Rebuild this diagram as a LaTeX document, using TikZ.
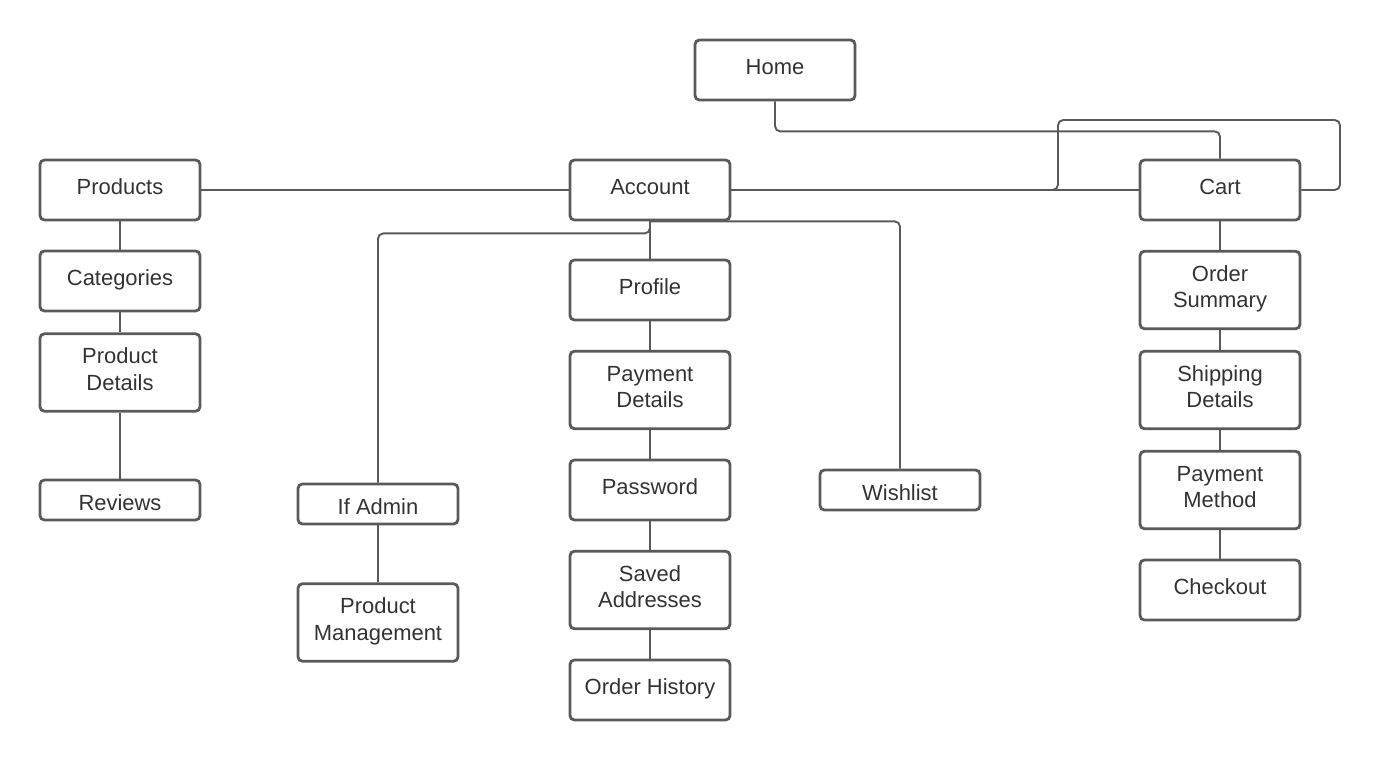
\documentclass[tikz,border=0pt]{standalone}
\usepackage{fontspec}
\setmainfont{Liberation Sans}
\definecolor{boxline}{HTML}{5A5A5A}
\definecolor{boxtext}{HTML}{333333}
\tikzset{
  page/.style={box/.style={draw=boxline, line width=1.6pt, rounded corners=2.5pt, text=boxtext,
    minimum width=3.2cm, minimum height=1.2cm, align=center, inner sep=0pt,
    text height=8.8pt, text depth=3.5pt, font=\fontsize{12.5}{15}\selectfont}},
  tall/.style={minimum height=1.55cm, text height=23.8pt, text depth=3.5pt},
  short/.style={minimum height=0.8cm, text height=11.6pt, text depth=0pt},
  link/.style={draw=boxline, line width=1.1pt, rounded corners=3pt}
}
\begin{document}
\begin{tikzpicture}[x=0.02cm, y=-0.02cm, page]
            \useasboundingbox (0,0) rectangle (1382,760);
            \node[box] (home) at (775,70) {Home};
            % products column
            \node[box] (products) at (120,190) {Products};
            \node[box] (categories) at (120,281) {Categories};
            \node[box, tall] (proddetails) at (120,372.5) {Product\\Details};
            \node[box, short] (reviews) at (120,500) {Reviews};
            % account column
            \node[box] (account) at (650,190) {Account};
            \node[box] (profile) at (650,290) {Profile};
            \node[box, tall] (paydetails) at (650,390) {Payment\\Details};
            \node[box] (password) at (650,490) {Password};
            \node[box, tall] (addresses) at (650,590) {Saved\\Addresses};
            \node[box] (history) at (650,690) {Order History};
            \node[box, short] (ifadmin) at (378,504) {If Admin};
            \node[box, tall] (prodmgmt) at (378,622.5) {Product\\Management};
            \node[box, short] (wishlist) at (900,490) {Wishlist};
            % cart column
            \node[box] (cart) at (1220,190) {Cart};
            \node[box, tall] (summary) at (1220,290) {Order\\Summary};
            \node[box, tall] (shipping) at (1220,390) {Shipping\\Details};
            \node[box, tall] (paymethod) at (1220,490) {Payment\\Method};
            \node[box] (checkout) at (1220,590) {Checkout};

            \draw[link] (home.south) -- ++(0,30) -| (cart.north);
            \draw[link] (products.east) -- (account.west);
            \draw[link] (account.east) -- (cart.west);
            \draw[link] (account.east) -- (1058,190) |- (1340,120) |- (cart.east);
            \draw[link] (account.south) -- ++(0,12) -| (ifadmin.north);
            \draw[link] (account.south) -| (wishlist.north);
            \draw[link] (ifadmin) -- (prodmgmt);
            \draw[link] (products) -- (categories) -- (proddetails) -- (reviews);
            \draw[link] (account) -- (profile) -- (paydetails) -- (password) -- (addresses) -- (history);
            \draw[link] (cart) -- (summary) -- (shipping) -- (paymethod) -- (checkout);
\end{tikzpicture}
\end{document}
